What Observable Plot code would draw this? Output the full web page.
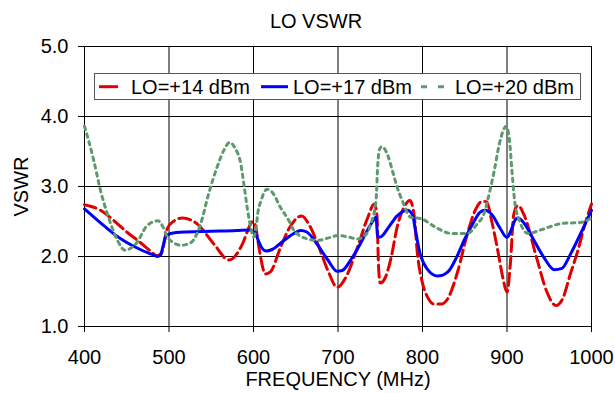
<!DOCTYPE html>
<html>
<head>
<meta charset="utf-8">
<script src="https://cdn.jsdelivr.net/npm/d3@7"></script>
<script src="https://cdn.jsdelivr.net/npm/@observablehq/plot@0.6"></script>
<style>
  html, body { margin: 0; padding: 0; background: #fff; }
  #wrap { position: relative; width: 615px; height: 393px; font-family: "Liberation Sans", Arial, sans-serif; }
  #title { position: absolute; left: 0; top: 11px; width: 632px; text-align: center; font-size: 20px; line-height: 20px; color: #000; }
  #legend { position: absolute; left: 94px; top: 73px; width: 485px; height: 25px; background: #fff; border: 1px solid #555; }
</style>
</head>
<body>
<div id="wrap">
  <div id="chart"></div>
  <div id="title">LO VSWR</div>
  <div id="legend"></div>
</div>
<script>
const titleText = "LO VSWR";
const xLabel = "FREQUENCY (MHz)";
const yLabel = "VSWR";
const xTicks = [400, 500, 600, 700, 800, 900, 1000];
const yTicks = [1, 2, 3, 4, 5];
const seriesNames = ["LO=+14 dBm", "LO=+17 dBm", "LO=+20 dBm"];

const freq14 = [400,419,435,450,466,478,486,491,498,505,516,533,553,571,587,596,599,602,607,614,620,632,644,657,666,676,688,699,710,723,735,743,746,748,750,756,763,770,778,785,790,794,800,806,814,822,830,842,853,862,871,876,882,889,895,900,904,908,913,920,936,947,958,966,975,984,992,1000];
const vswr14 = [2.74,2.66,2.51,2.35,2.20,2.08,2.01,2.05,2.40,2.50,2.55,2.47,2.18,1.95,2.18,2.45,2.50,2.45,2.09,1.75,1.78,2.13,2.44,2.58,2.45,2.18,1.80,1.56,1.72,2.13,2.55,2.75,2.60,1.85,1.62,1.70,1.99,2.42,2.70,2.80,2.60,2.04,1.62,1.42,1.32,1.32,1.40,1.80,2.32,2.65,2.79,2.78,2.50,2.09,1.70,1.49,1.90,2.60,2.73,2.60,1.94,1.50,1.30,1.40,1.75,2.09,2.45,2.75];

const freq17 = [400,420,435,450,466,480,486,490,493,496,502,520,550,580,595,601,606,610,615,622,635,648,656,663,675,688,699,705,715,725,735,741,745,747,750,760,770,782,788,792,797,805,818,830,840,850,860,868,874,882,892,900,904,910,913,920,932,944,956,965,975,988,1000];
const vswr17 = [2.68,2.47,2.32,2.20,2.10,2.03,2.00,2.02,2.15,2.28,2.33,2.35,2.36,2.37,2.38,2.35,2.22,2.12,2.08,2.10,2.22,2.33,2.37,2.35,2.18,1.95,1.79,1.80,1.95,2.15,2.38,2.50,2.56,2.28,2.28,2.42,2.58,2.66,2.60,2.35,2.05,1.83,1.72,1.78,1.98,2.25,2.48,2.63,2.66,2.60,2.40,2.27,2.35,2.53,2.55,2.48,2.23,1.98,1.81,1.83,2.03,2.35,2.66];

const freq20 = [400,405,411,419,427,433,439,448,455,462,474,487,493,498,505,514,526,537,547,557,565,572,578,585,589,593,597,600,603,605,609,616,622,632,642,648,664,676,690,700,712,723,732,739,745,747,749,752,755,759,765,770,776,786,798,818,834,853,865,873,877,885,891,899,903,906,909,916,925,940,964,988,1000];
const vswr20 = [3.86,3.65,3.37,2.94,2.61,2.40,2.23,2.09,2.12,2.20,2.44,2.51,2.42,2.28,2.20,2.16,2.20,2.45,2.90,3.28,3.52,3.63,3.55,3.32,3.00,2.66,2.40,2.28,2.40,2.61,2.80,2.96,2.92,2.70,2.51,2.37,2.25,2.23,2.27,2.30,2.28,2.25,2.30,2.47,2.80,3.30,3.53,3.57,3.54,3.44,3.20,2.99,2.80,2.56,2.54,2.40,2.33,2.33,2.47,2.62,2.80,3.23,3.61,3.86,3.65,3.20,2.80,2.47,2.33,2.38,2.47,2.49,2.55];

const colors = ["#e00000", "#0000ff", "#5f9a6e"];
const dashes = ["12,5", null, "3.5,4.5"];

const series = [
  {name: seriesNames[0], f: freq14, v: vswr14},
  {name: seriesNames[1], f: freq17, v: vswr17},
  {name: seriesNames[2], f: freq20, v: vswr20}
];
const rows = series.flatMap((s, i) => s.f.map((f, j) => ({f, v: s.v[j], s: s.name, i})));

const lineMarks = series.map((s, i) => Plot.line(rows.filter(d => d.i === i), {
  x: "f", y: "v", stroke: colors[i], strokeWidth: 3,
  strokeDasharray: dashes[i] || undefined, curve: "monotone-x"
}));

const chart = Plot.plot({
  width: 615,
  height: 393,
  marginLeft: 84,
  marginRight: 24,
  marginTop: 46,
  marginBottom: 67,
  style: {fontFamily: '"Liberation Sans", Arial, sans-serif', fontSize: "20px", color: "#000", background: "#fff"},
  x: {domain: [400, 1000], ticks: xTicks, tickSize: 6, tickPadding: 17, tickFormat: d3.format("d"),
      label: xLabel, labelAnchor: "center", labelOffset: 59, labelArrow: "none"},
  y: {domain: [1, 5], ticks: yTicks, tickSize: 6, tickPadding: 10, tickFormat: d3.format(".1f"),
      label: yLabel, labelAnchor: "center", labelOffset: 71, labelArrow: "none"},
  marks: [
    Plot.ruleX(xTicks, {stroke: "#000", strokeWidth: 1}),
    Plot.ruleY(yTicks, {stroke: "#000", strokeWidth: 1}),
    ...lineMarks
  ]
});
document.getElementById("chart").appendChild(chart);
document.getElementById("title").textContent = titleText;

// Legend
const legendItems = [
  {sx1: 4, sx2: 23, tx: 36},
  {sx1: 166, sx2: 193, tx: 198},
  {sx1: 326, sx2: 349, tx: 360}
];
const legendDash = ["none", "none", "6,11"];
const lg = d3.select("#legend").append("svg").attr("width", 485).attr("height", 25)
  .style("display", "block");
seriesNames.forEach((name, i) => {
  const it = legendItems[i];
  lg.append("line").attr("x1", it.sx1).attr("x2", it.sx2).attr("y1", 12.7).attr("y2", 12.7)
    .attr("stroke", colors[i]).attr("stroke-width", 3).attr("stroke-dasharray", legendDash[i]);
  lg.append("text").attr("x", it.tx).attr("y", 20).attr("font-size", 20)
    .attr("font-family", '"Liberation Sans", Arial, sans-serif').attr("fill", "#000").text(name);
});
</script>
</body>
</html>
